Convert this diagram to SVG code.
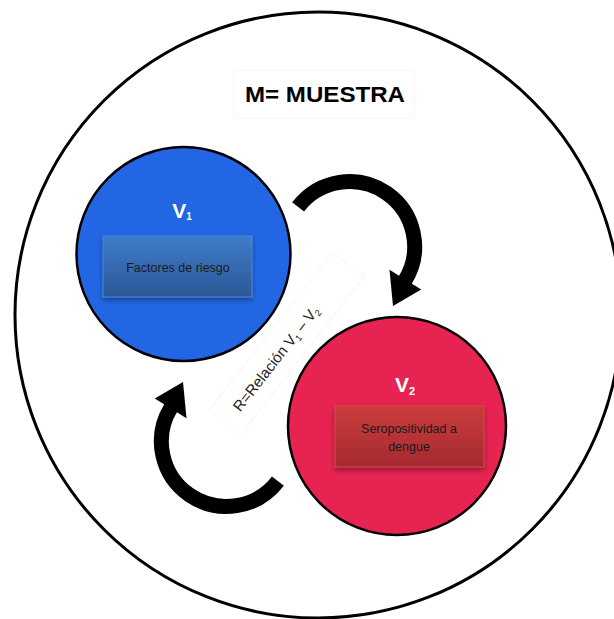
<svg xmlns="http://www.w3.org/2000/svg" width="614" height="619" viewBox="0 0 614 619">
<style>
.ring{fill:none;stroke:#000;stroke-width:3}
.node{stroke:#000;stroke-width:2.5}
.vlab{font-family:"Liberation Sans",Arial,sans-serif;font-weight:bold;fill:#fff;text-anchor:middle}
.box-t{font-family:"Liberation Sans",Arial,sans-serif;font-size:12.5px;fill:#1a1a1a;text-anchor:middle}
.arrow{fill:none;stroke:#000;stroke-width:15}
.faint{fill:none;stroke:#f5f5f5;stroke-width:1}
</style>
<defs>
<linearGradient id="gBlue" x1="0" y1="0" x2="0" y2="1">
<stop offset="0" stop-color="#3e7ccb"/><stop offset="1" stop-color="#2c5896"/>
</linearGradient>
<linearGradient id="gRed" x1="0" y1="0" x2="0" y2="1">
<stop offset="0" stop-color="#cc3c3c"/><stop offset="1" stop-color="#a32a30"/>
</linearGradient>
<filter id="sh" x="-20%" y="-20%" width="140%" height="160%">
<feDropShadow dx="0" dy="3" stdDeviation="2.5" flood-color="#000" flood-opacity="0.35"/>
</filter>
<g id="curvedArrow">
<path class="arrow" d="M298.1 206.9 A65 65 0 0 1 405.1 280.4"/>
<polygon points="389.5,269.8 421.2,289.6 393,306"/>
</g>
</defs>
<rect width="614" height="619" fill="#fff"/>
<g id="muestra">
<circle class="ring" cx="318" cy="315" r="303"/>
<rect class="faint" x="234" y="70" width="180" height="48"/>
<text x="325" y="102" font-family="'Liberation Sans',Arial,sans-serif" font-weight="bold" font-size="22" text-anchor="middle" textLength="160" lengthAdjust="spacingAndGlyphs">M= MUESTRA</text>
</g>
<g id="connectors">
<use href="#curvedArrow"/>
<use href="#curvedArrow" transform="rotate(180 288 344)"/>
<g id="relation" transform="rotate(-52 287 343)">
<rect class="faint" x="187" y="323" width="200" height="40"/>
<text x="268" y="349" font-family="'Liberation Sans',Arial,sans-serif" font-size="15" fill="#222" text-anchor="middle">R=Relación V<tspan font-size="9" dy="3">1</tspan><tspan dy="-3"> – V</tspan><tspan font-size="9" dy="3">2</tspan></text>
</g>
</g>
<g id="v1">
<circle class="node" cx="183.5" cy="254" r="107" fill="#2266e4"/>
<text class="vlab" x="182" y="218" font-size="21">V<tspan font-size="10" dy="2">1</tspan></text>
<rect x="103" y="236" width="149" height="61" fill="url(#gBlue)" stroke="#4a86d2" stroke-width="1" filter="url(#sh)"/>
<text class="box-t" x="178" y="272">Factores de riesgo</text>
</g>
<g id="v2">
<circle class="node" cx="397" cy="426" r="109" fill="#e72351"/>
<text class="vlab" x="405" y="392" font-size="21">V<tspan font-size="11" dy="3">2</tspan></text>
<rect x="335" y="406" width="149" height="61" fill="url(#gRed)" stroke="#d24a4a" stroke-width="1" filter="url(#sh)"/>
<text class="box-t" x="409" y="433" font-size="12">Seropositividad a</text>
<text class="box-t" x="409" y="451" font-size="12">dengue</text>
</g>
</svg>
